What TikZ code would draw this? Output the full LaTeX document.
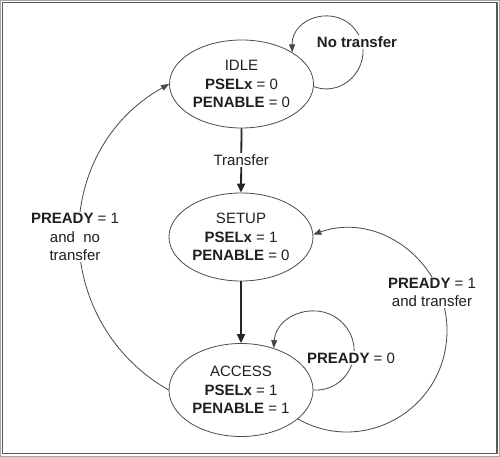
\documentclass[tikz,border=0pt]{standalone}
\usepackage{fontspec}
\setmainfont{Liberation Sans}
\usetikzlibrary{arrows.meta,shapes.geometric}
\begin{document}
\begin{tikzpicture}[x=1pt,y=1pt,
  state/.style={ellipse,draw=black!70,line width=0.8pt,minimum width=144pt,minimum height=88pt,inner sep=0pt,align=center,font=\fontsize{15}{18.5}\selectfont,text=black!88},
  lbl/.style={fill=white,inner sep=1.5pt,align=center,font=\fontsize{15}{18.5}\selectfont,text=black!88},
  conn/.style={draw=black!72,line width=0.8pt,-{Triangle[length=8pt,width=6pt]}},
  mainconn/.style={draw=black!85,line width=1.8pt,-{Triangle[length=9pt,width=8pt]}}]
\useasboundingbox (0,0) rectangle (500,457);
\draw[black!35,line width=1pt] (0.5,0.5) rectangle (499.5,456.5);
\draw[black!65,line width=1.5pt] (2.5,3.5) rectangle (497,454.5);

\node[state] (idle) at (241.5,373) {IDLE\\\textbf{PSELx} = 0\\\textbf{PENABLE} = 0};
\node[state] (setup) at (241,220) {SETUP\\\textbf{PSELx} = 1\\\textbf{PENABLE} = 0};
\node[state,minimum height=93pt] (access) at (241,67) {ACCESS\\\textbf{PSELx} = 1\\\textbf{PENABLE} = 1};

\draw[mainconn] (idle.south) -- node[lbl] {Transfer} (setup.north);
\draw[mainconn] (setup.south) -- (access.north);

% No transfer loop
\draw[conn] (idle.-2) .. controls +(-21:35) and +(-55:35) .. (356.6,425.5)
  .. controls +(125:35) and +(91:35) .. (idle.32);
\node[lbl,font=\fontsize{15}{18.5}\selectfont\bfseries] (nt) at (357,415) {No transfer};

% PREADY = 0 loop
\draw[conn] (access.east) .. controls +(-3:35) and +(-48.5:35) .. (344,132.5)
  .. controls +(131.5:35) and +(86:35) .. (access.52);
\node[lbl] (p0) at (351,99) {\textbf{PREADY} = 0};

% PREADY = 1 and transfer
\draw[conn] (access.-27) .. controls +(-29.5:73) and +(-95:73) .. (446.6,117.2)
  .. controls +(85:73) and +(19.4:73) .. (setup.2);
\node[lbl] (p1t) at (432,164.5) {\textbf{PREADY} = 1\\and transfer};

% PREADY = 1 and no transfer
\draw[conn] (access.west) .. controls +(150.2:137) and +(209.3:137) .. (idle.west);
\node[lbl] (p1n) at (75,220) {\textbf{PREADY} = 1\\and~~no\\transfer};
\end{tikzpicture}
\end{document}
